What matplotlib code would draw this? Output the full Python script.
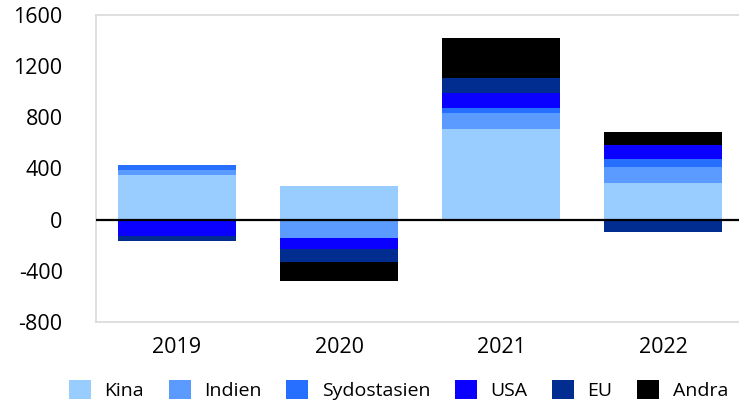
import numpy as np
import matplotlib.pyplot as plt

plt.rcParams['font.family'] = ['Open Sans', 'DejaVu Sans']
plt.rcParams['axes.unicode_minus'] = False

years = ['2019', '2020', '2021', '2022']
series = ['Kina', 'Indien', 'Sydostasien', 'USA', 'EU', 'Andra']
kina = [350, 265, 710, 290]
indien = [40, -140, 125, 120]
sydostasien = [40, 0, 40, 65]
usa = [-125, -90, 115, 110]
eu = [-40, -100, 115, -100]
andra = [0, -150, 315, 100]
colors = ['#99CCFF', '#5B9BFF', '#2770FF', '#0A00FF', '#002D8F', '#000000']

values = [kina, indien, sydostasien, usa, eu, andra]

fig = plt.figure(figsize=(7.39, 4.03), dpi=100)
ax = fig.add_axes([96 / 739, 1 - 322 / 403, 648 / 739, 307 / 403])

# positive parts stack upward from zero, negative parts downward
x = np.arange(len(years))
pos_base = np.zeros(len(years))
neg_base = np.zeros(len(years))
for name, vals, c in zip(series, values, colors):
    vals = np.array(vals, dtype=float)
    pos = np.where(vals > 0, vals, 0)
    neg = np.where(vals < 0, vals, 0)
    ax.bar(x, pos, bottom=pos_base, width=0.725, color=c, label=name, zorder=2)
    ax.bar(x, neg, bottom=neg_base, width=0.725, color=c, zorder=2)
    pos_base += pos
    neg_base += neg

ax.axhline(0, color='black', lw=1.6, zorder=3)

ax.set_xlim(-0.5, 3.5)
ax.set_ylim(-800, 1600)
ax.set_yticks(np.arange(-800, 1601, 400))
ax.set_xticks(x)
ax.set_xticklabels(years)
ax.tick_params(axis='y', length=0, pad=24, labelsize=15.5, colors='#000000')
ax.tick_params(axis='x', length=0, pad=11, labelsize=15.5)
for s in ax.spines.values():
    s.set_color('#D9D9D9')
    s.set_linewidth(1.2)

fig.legend(loc='center', bbox_to_anchor=(398.5 / 739, 1 - 390 / 403), ncol=6,
           frameon=False, fontsize=14, handlelength=1.13, handleheight=1.08,
           handletextpad=0.7, columnspacing=1.26, borderaxespad=0)

fig.savefig('out.png', dpi=100)
